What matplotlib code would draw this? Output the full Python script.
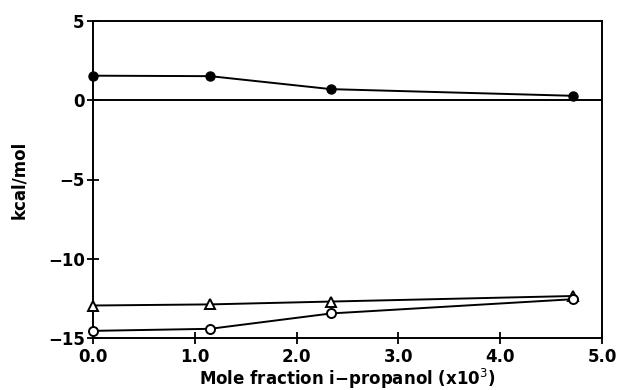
import matplotlib
matplotlib.use("Agg")
import matplotlib.pyplot as plt

# Mole fraction of i-propanol (x10^3)
x_frac = [0.0, 1.15, 2.34, 4.72]

# Energy components, kcal/mol
filled_circle = [1.55, 1.52, 0.70, 0.28]
open_triangle = [-12.95, -12.88, -12.70, -12.35]
open_circle = [-14.55, -14.42, -13.45, -12.55]

x_ticks = [0.0, 1.0, 2.0, 3.0, 4.0, 5.0]
x_ticklabels = ["0.0", "1.0", "2.0", "3.0", "4.0", "5.0"]
y_ticks = [5, 0, -5, -10, -15]
y_ticklabels = ["5", "0", "\u22125", "\u221210", "\u221215"]

plt.rcParams["font.family"] = ["DejaVu Sans"]

fig = plt.figure(figsize=(6.17, 3.9), dpi=100)
ax = fig.add_axes([93 / 617, 1 - 338 / 390, (602 - 93) / 617, (338 - 21) / 390])

line_kw = dict(color="black", lw=1.4, clip_on=False, zorder=3)
ax.plot(x_frac, filled_circle, marker="o", ms=6.5, mfc="black", mec="black", **line_kw)
ax.plot(x_frac, open_triangle, marker="^", ms=6.5, mfc="white", mec="black", mew=1.4, **line_kw)
ax.plot(x_frac, open_circle, marker="o", ms=6.5, mfc="white", mec="black", mew=1.4, **line_kw)

ax.axhline(0, color="black", lw=1.4, zorder=2)

ax.set_xlim(0, 5)
ax.set_ylim(-15, 5)
ax.set_xticks(x_ticks)
ax.set_xticklabels(x_ticklabels)
ax.set_yticks(y_ticks)
ax.set_yticklabels(y_ticklabels)

for s in ax.spines.values():
    s.set_linewidth(1.4)

ax.tick_params(axis="both", direction="inout", length=8, width=1.3,
               labelsize=12, top=False, right=False)
ax.tick_params(axis="x", pad=3)
ax.tick_params(axis="y", pad=2)
for lab in ax.get_xticklabels() + ax.get_yticklabels():
    lab.set_fontweight("semibold")

ax.set_xlabel("Mole fraction i\u2212propanol (x10$^{3}$)", fontsize=12,
              fontweight="semibold", labelpad=1)
ax.set_ylabel("kcal/mol", fontsize=12, fontweight="semibold", labelpad=14)

fig.savefig("out.png", dpi=100)
